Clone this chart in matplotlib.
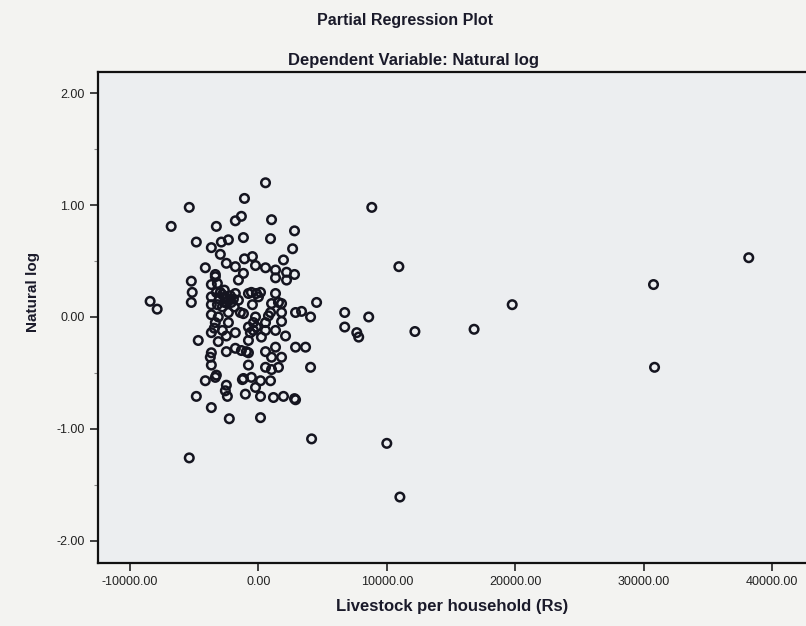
#!/usr/bin/env python

import matplotlib
matplotlib.use("Agg")
import matplotlib.pyplot as plt
from matplotlib.ticker import FixedLocator, FormatStrFormatter

plt.rcParams['font.family'] = ['Liberation Sans', 'DejaVu Sans']

# Livestock per household (Rs), partial residuals
livestock = [
    8830, 10940, 6720, 6720, 8590, 7660, 7810, 12190, 16800, 19770,
    30780, 30860, 38200, 10000, 11020, 4140, -5390, 4060, 4530, 4060, 3360,
    550, -1090, -5390, -6800, -3280, -1800, -1330, 1020, 2810, -4840,
    -2890, -2340, -1170, 940, 2660, -3670, -2970, -1090, -470, 1950,
    -4140, -2500, -1800, -230, 550, 1330, 2190, 2810, -3360, -1170,
    -5230, -3200, -1560, 1330, 2190, -5160, -3670, -3670, -2580, -1800,
    -780, 0, 1330, -8440, -7890, -5230, 1800, 1020, 1800, -470,
    -2500, -3670, -3670, -3130, -2340, -1170, -230, 780, -3360, -2340,
    -390, 550, 1800, -3670, -4690, -3130, -1800, -780, 230, 2110,
    1330, 2890, 3670, -3670, -2500, -940, 550,
    -2810, -2190, -2660, -2110, -3050, -550, -160, 160, -780, -390,
    -3440, -2810, -2500,
    -3750, -3670, -3280, -1410, -1330, -3360,
    2890, 1560, 940, 550, 1330, 1020, 550, 1560, -780,
    2810, 1950, 1170, 160, -2270, -3670, -4840, -4140, -3360, -2500,
    -2580, -2420, -1020, 160, -230, 940, 160, -1250, -550, 1020,
    1800, -1800, -780, -1170, 2890,
    -2970, -2660, -2340, -1950, -3200, -2810, -1880, -1560, -3280,
    -160, -630,
]

# Natural log, partial residuals
natural_log = [
    0.98, 0.45, 0.04, -0.09, 0.00, -0.14, -0.18, -0.13, -0.11, 0.11,
    0.29, -0.45, 0.53, -1.13, -1.61, -1.09, -1.26, -0.45, 0.13, 0.00, 0.05,
    1.20, 1.06, 0.98, 0.81, 0.81, 0.86, 0.90, 0.87, 0.77, 0.67,
    0.67, 0.69, 0.71, 0.70, 0.61, 0.62, 0.56, 0.52, 0.54, 0.51,
    0.44, 0.48, 0.45, 0.46, 0.44, 0.42, 0.40, 0.38, 0.38, 0.39,
    0.32, 0.30, 0.33, 0.35, 0.33, 0.22, 0.29, 0.18, 0.18, 0.21,
    0.21, 0.18, 0.21, 0.14, 0.07, 0.13, 0.04, 0.12, 0.12, 0.11,
    0.13, 0.11, 0.02, 0.00, 0.04, 0.03, 0.00, 0.01, -0.05, -0.05,
    -0.05, -0.05, -0.04, -0.14, -0.21, -0.22, -0.14, -0.21, -0.18, -0.17,
    -0.27, -0.27, -0.27, -0.32, -0.31, -0.31, -0.31,
    0.20, 0.19, 0.13, 0.13, 0.16, 0.22, 0.21, 0.22, -0.09, -0.12,
    -0.10, -0.12, -0.17,
    -0.36, -0.43, -0.52, 0.04, -0.30, 0.36,
    0.04, 0.13, 0.04, -0.12, -0.12, -0.36, -0.45, -0.45, -0.43,
    -0.73, -0.71, -0.72, -0.90, -0.91, -0.81, -0.71, -0.57, -0.54, -0.61,
    -0.66, -0.71, -0.69, -0.71, -0.63, -0.57, -0.57, -0.56, -0.54, -0.47,
    -0.36, -0.28, -0.32, -0.55, -0.74,
    0.22, 0.24, 0.15, 0.16, 0.11, 0.09, 0.09, 0.15, 0.22,
    -0.09, -0.14,
]

x_ticks = [-10000, 0, 10000, 20000, 30000, 40000]
y_ticks = [-2, -1, 0, 1, 2]

fig = plt.figure(figsize=(8.06, 6.26), dpi=100, facecolor='#f3f3f1')
ax = fig.add_axes([0.1216, 0.1006, 0.8784, 0.7843], facecolor='#eceef0')

ax.scatter(livestock, natural_log, s=38, facecolors='none',
           edgecolors='#151520', linewidths=1.8, zorder=3)

ax.set_xlim(-12500, 42660)
ax.set_ylim(-2.2, 2.19)

ax.xaxis.set_major_locator(FixedLocator(x_ticks))
ax.yaxis.set_major_locator(FixedLocator(y_ticks))
ax.yaxis.set_minor_locator(FixedLocator([-1.5, -0.5, 0.5, 1.5]))
ax.xaxis.set_major_formatter(FormatStrFormatter('%.2f'))
ax.yaxis.set_major_formatter(FormatStrFormatter('%.2f'))
ax.tick_params(which='major', direction='out', length=6, width=1.2,
               labelsize=9, color='#222222', labelcolor='#222222')
ax.tick_params(which='minor', direction='out', length=3, width=0.8,
               color='#888888')

for side in ['left', 'bottom', 'top']:
    ax.spines[side].set_linewidth(1.6)
    ax.spines[side].set_color('#111111')
ax.spines['right'].set_visible(False)

# titles and axis labels
fig.text(405/806, 1 - 20/626, "Partial Regression Plot", ha='center',
         va='center', fontsize=11.5, fontweight='bold', color='#1a1a2a')
fig.text(413/806, 1 - 60/626, "Dependent Variable: Natural log", ha='center',
         va='center', fontsize=12, fontweight='bold', color='#1a1a2a')
fig.text(33/806, 1 - 292/626, "Natural log", rotation=90, ha='center',
         va='center', fontsize=11, fontweight='bold', color='#1a1a2a')
fig.text(452/806, 1 - 607/626, "Livestock per household (Rs)", ha='center',
         va='center', fontsize=12, fontweight='bold', color='#1a1a2a')

plt.savefig("out.png", dpi=100, facecolor=fig.get_facecolor())
